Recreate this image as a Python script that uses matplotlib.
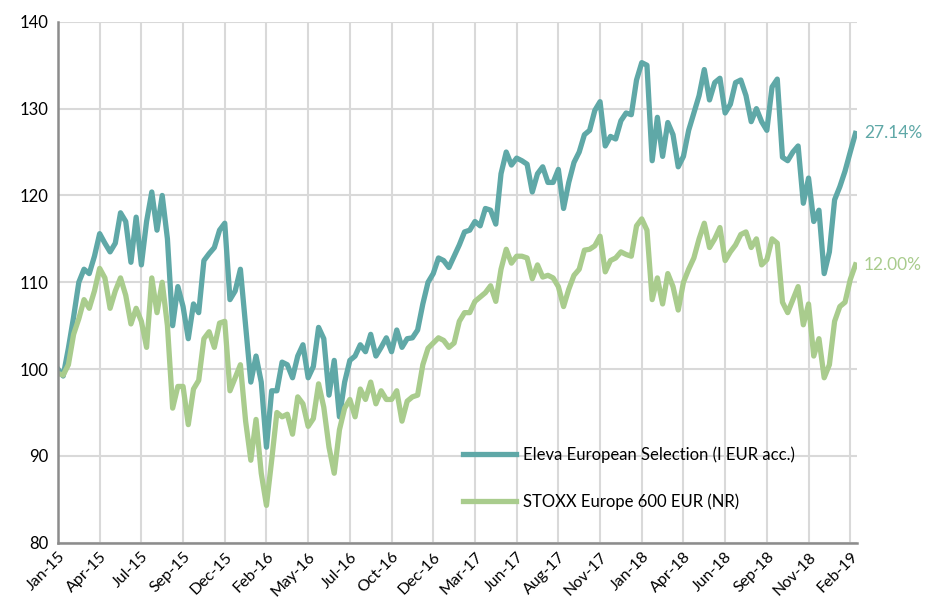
import matplotlib.pyplot as plt
import numpy as np

plt.rcParams['font.family'] = ['Lato', 'DejaVu Sans']

# x tick labels (one every 8 data points)
tick_labels = ["Jan-15", "Apr-15", "Jul-15", "Sep-15", "Dec-15", "Feb-16", "May-16",
               "Jul-16", "Oct-16", "Dec-16", "Mar-17", "Jun-17", "Aug-17", "Nov-17",
               "Jan-18", "Apr-18", "Jun-18", "Sep-18", "Nov-18", "Feb-19"]

# rebased to 100
eleva = [100, 99.2, 102.4, 106, 110, 111.5, 111, 113, 115.6, 114.5,
         113.5, 114.5, 118, 117, 112.3, 117.5, 112, 117, 120.4, 116,
         120, 115, 105, 109.5, 107.2, 103.5, 107.5, 106.5, 112.5, 113.3,
         114, 116, 116.8, 108, 109, 111.5, 105, 98.5, 101.5, 98.5,
         91, 97.5, 97.5, 100.8, 100.5, 99, 101.5, 102.8, 99, 100.3,
         104.8, 103.5, 97, 101, 94.5, 98.5, 101, 101.5, 102.8, 102,
         104, 101.5, 102.5, 103.6, 102, 104.5, 102.5, 103.5, 103.6, 104.5,
         107.5, 110, 111, 112.8, 112.5, 111.7, 113, 114.3, 115.8, 116,
         117, 116.5, 118.5, 118.3, 116.7, 122.5, 125, 123.5, 124.3, 124,
         123.6, 120.4, 122.5, 123.3, 121.5, 121.5, 123, 118.5, 121.5, 123.8,
         125, 127, 127.5, 129.8, 130.8, 125.7, 126.8, 126.5, 128.6, 129.5,
         129.3, 133.3, 135.3, 135, 124, 129, 124.5, 128.4, 127, 123.3,
         124.5, 127.5, 129.5, 131.5, 134.5, 131, 133, 133.5, 129.5, 130.5,
         133, 133.3, 131.5, 128.5, 130, 128.5, 127.5, 132.5, 133.4, 124.4,
         124, 125, 125.7, 119.1, 122, 117, 118.3, 111, 113.5, 119.5,
         121, 122.8, 125, 127.14]

stoxx = [99.5, 99.3, 100.5, 104, 105.8, 108, 107, 109, 111.6, 110.5,
         107, 109, 110.5, 108.5, 105.2, 107, 105.5, 102.5, 110.5, 106.5,
         110, 105, 95.5, 98, 98, 93.6, 97.7, 98.7, 103.5, 104.3,
         102.5, 105.3, 105.5, 97.5, 99, 100.5, 94, 89.5, 94.2, 88,
         84.3, 89.5, 95, 94.5, 94.8, 92.5, 96.8, 96, 93.4, 94.3,
         98.3, 95.6, 91, 88, 93, 95.5, 96.5, 94.5, 97.7, 96.5,
         98.5, 96, 97.5, 96.5, 96.5, 97.5, 94, 96.3, 96.8, 97,
         100.5, 102.4, 103, 103.6, 103.3, 102.5, 103, 105.5, 106.5, 106.5,
         107.8, 108.3, 108.8, 109.6, 107.8, 111.5, 113.8, 112.2, 113, 113,
         112.8, 110.4, 112, 110.6, 110.8, 110.5, 109.5, 107.2, 109.2, 110.8,
         111.5, 113.7, 113.8, 114.2, 115.3, 111.2, 112.5, 112.8, 113.5, 113.2,
         113, 116.5, 117.3, 116, 108, 110.5, 107.5, 111, 109.5, 106.8,
         110, 111.5, 112.8, 115, 116.8, 114, 115, 116.3, 112.5, 113.5,
         114.3, 115.5, 115.8, 114, 115, 112, 112.6, 115, 114.5, 107.7,
         106.5, 108, 109.5, 105.1, 107.5, 101.5, 103.5, 99, 100.5, 105.5,
         107.2, 107.7, 110.3, 112.0]

teal = "#5FA8A7"
green = "#A9CC8D"

x = np.arange(len(eleva))

fig = plt.figure(figsize=(9.26, 6.01), dpi=100)
ax = fig.add_axes([0.0626, 0.097, 0.8629, 0.8667])

ax.plot(x, eleva, color=teal, lw=3.8, solid_joinstyle="round", label="Eleva European Selection (I EUR acc.)")
ax.plot(x, stoxx, color=green, lw=3.8, solid_joinstyle="round", label="STOXX Europe 600 EUR (NR)")

ax.set_ylim(80, 140)
ax.set_xlim(0, 153.3)
ax.set_yticks(range(80, 141, 10))
ax.set_xticks(np.arange(0, 8 * len(tick_labels), 8))
ax.set_xticklabels(tick_labels, rotation=45, ha="right", rotation_mode="anchor")
ax.tick_params(axis="y", length=0, labelsize=12, pad=7)
ax.tick_params(axis="x", length=0, labelsize=11.5, pad=5)
ax.grid(True, color="#D9D9D9", lw=1.5)
ax.set_axisbelow(True)

for s in ["top", "right"]:
    ax.spines[s].set_visible(False)
for s in ["left", "bottom"]:
    ax.spines[s].set_color("#8C8C8C")
    ax.spines[s].set_linewidth(1.8)

# end-of-line labels
ax.text(len(eleva) + 0.6, eleva[-1], f"{eleva[-1] - 100:.2f}%", color=teal, fontsize=12.5,
        va="center", ha="left", clip_on=False)
ax.text(len(stoxx) + 0.6, stoxx[-1], f"{stoxx[-1] - 100:.2f}%", color=green, fontsize=12.5,
        va="center", ha="left", clip_on=False)

ax.legend(loc="upper left", bbox_to_anchor=(0.507, 0.185), frameon=False, fontsize=12,
          handlelength=3.2, labelspacing=1.85, handletextpad=0.4, borderaxespad=0,
          borderpad=0)

fig.savefig("out.png", dpi=100, facecolor="white")
